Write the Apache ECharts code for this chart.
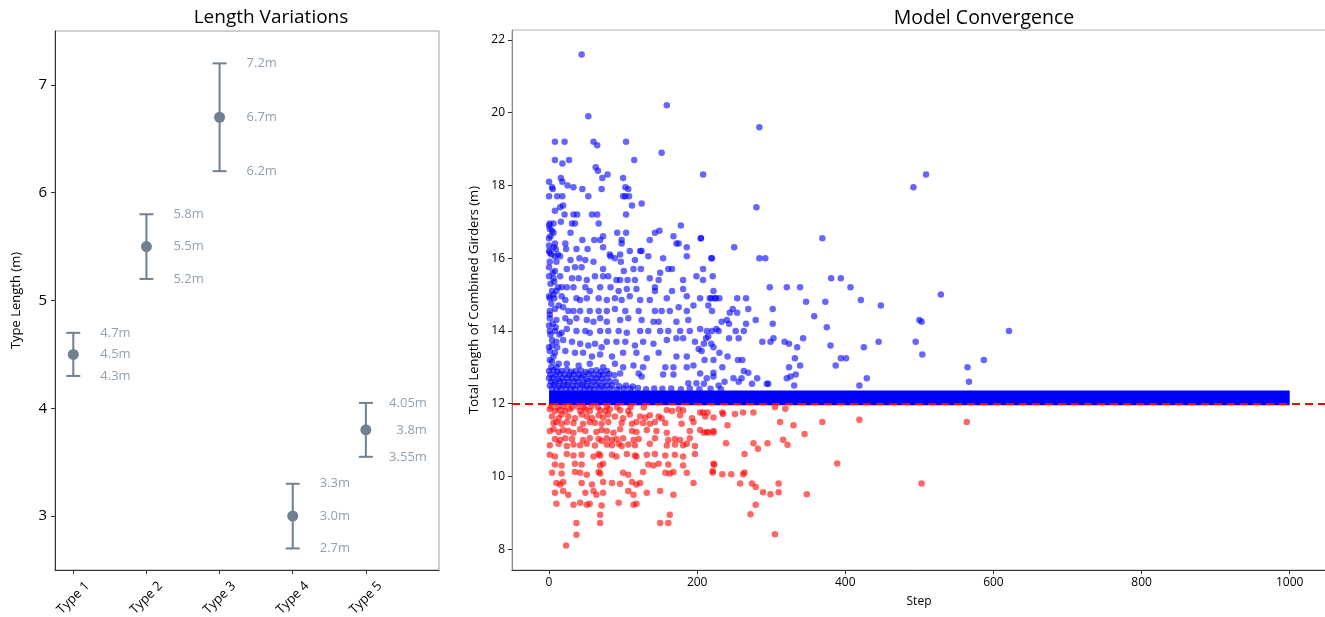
<!DOCTYPE html>
<html>
<head>
<meta charset="utf-8">
<script src="https://cdn.jsdelivr.net/npm/echarts@6/dist/echarts.min.js"></script>
<style>
  html, body { margin: 0; padding: 0; background: #fff; }
  #main { width: 1325px; height: 617px; }
</style>
</head>
<body>
<div id="main"></div>
<script>
// left panel: type lengths with ranges
var typeNames = ['Type 1', 'Type 2', 'Type 3', 'Type 4', 'Type 5'];
var typeMeans = [4.5, 5.5, 6.7, 3.0, 3.8];
var typeLows = [4.3, 5.2, 6.2, 2.7, 3.55];
var typeHighs = [4.7, 5.8, 7.2, 3.3, 4.05];
var leftYTicks = [3, 4, 5, 6, 7];

// right panel: step vs total length
var targetLength = 12;
var bandSteps = [0, 1000];      // converged run, packed solid
var bandValues = [11.96, 12.36];
var xTicks = [0, 200, 400, 600, 800, 1000];
var rightYTicks = [8, 10, 12, 14, 16, 18, 20, 22];

var bluePoints = [
  [44,21.6],[159,20.2],[53,19.9],[284,19.6],[8,19.2],[21,19.2],[60,19.2],[65,19.1],[104,19.2],[152,18.9],
  [8,18.7],[18,18.6],[27,18.7],[115,18.7],[63,18.5],[66,18.4],[72,18.2],[79,18.3],[100,18.2],[208,18.3],
  [0,18.1],[4,17.95],[5,17.9],[16,18.2],[18,18.1],[25,18.0],[33,17.95],[45,17.9],[71,17.9],[103,17.95],
  [107,17.9],[0,17.7],[11,17.7],[18,17.7],[53,17.7],[100,17.7],[103,17.7],[108,17.7],[15,17.4],[19,17.45],
  [8,17.3],[112,17.45],[125,17.5],[21,17.2],[33,17.2],[38,17.2],[58,17.2],[65,17.2],[104,17.2],[492,17.95],
  [509,18.3],[280,17.4],[369,16.55],[205,16.55],[250,16.3],[219,16.0],[284,16.0],[292,16.0],[208,15.7],[221,15.5],
  [208,15.4],[381,15.45],[394,15.45],[298,15.2],[321,15.2],[339,15.2],[407,15.2],[222,15.1],[347,14.8],[373,14.8],
  [421,14.85],[448,14.7],[529,15.0],[204,14.9],[219,14.9],[225,14.9],[230,14.9],[254,14.9],[266,14.9],[215,14.7],
  [269,14.6],[302,14.6],[244,14.5],[248,14.6],[254,14.5],[279,14.3],[302,14.2],[358,14.4],[500,14.3],[503,14.25],
  [233,14.25],[240,14.3],[243,14.2],[266,14.2],[204,14.05],[220,14.0],[229,14.0],[226,14.05],[252,14.0],[263,14.0],
  [375,14.1],[243,13.8],[256,13.8],[212,13.8],[215,13.85],[288,13.7],[299,13.7],[303,13.8],[318,13.7],[324,13.65],
  [343,13.8],[335,13.55],[445,13.7],[495,13.7],[380,13.6],[425,13.55],[504,13.35],[209,13.65],[219,13.65],[206,13.45],
  [230,13.4],[241,13.3],[255,13.2],[261,13.2],[210,13.2],[222,13.2],[332,13.25],[394,13.25],[401,13.25],[387,13.05],
  [324,13.0],[339,13.05],[234,13.0],[565,13.0],[587,13.2],[621,14.0],[263,12.9],[269,12.85],[222,12.85],[222,12.75],
  [213,12.7],[249,12.7],[260,12.7],[281,12.7],[321,12.7],[326,12.75],[333,12.8],[429,12.7],[567,12.6],[237,12.6],
  [256,12.6],[274,12.55],[294,12.55],[296,12.55],[331,12.5],[419,12.5],[229,12.5],[209,12.55],
  [1,16.95],[6,16.95],[31,16.95],[35,16.95],[67,16.95],[16,17.0],
  [1,16.8],[4,16.75],[6,16.7],[29,16.7],[73,16.6],[92,16.7],[104,16.7],[143,16.7],[149,16.75],[178,16.9],
  [0,16.55],[8,16.4],[22,16.4],[45,16.5],[61,16.5],[69,16.5],[98,16.5],[98,16.4],[136,16.5],[168,16.6],[172,16.4],[175,16.4],[205,16.55],
  [0,16.2],[6,16.3],[9,16.25],[23,16.25],[37,16.25],[52,16.25],[73,16.3],[1,16.15],[109,16.2],[125,16.2],[186,16.3],[82,16.1],[96,16.1],[123,16.2],
  [8,16.05],[15,16.05],[29,15.95],[41,16.0],[49,15.95],[60,15.9],[83,16.05],[89,16.0],[97,15.9],[116,15.95],[134,16.05],[154,16.0],[186,16.05],[220,16.0],
  [0,15.75],[8,15.65],[24,15.7],[35,15.75],[44,15.75],[73,15.7],[101,15.65],[114,15.7],[124,15.7],[150,15.6],[161,15.7],[166,15.7],
  [6,15.45],[15,15.5],[31,15.45],[40,15.45],[51,15.4],[62,15.5],[73,15.5],[80,15.5],[91,15.4],[96,15.4],[106,15.4],[116,15.4],[136,15.45],[148,15.4],[181,15.4],[199,15.5],
  [4,15.1],[10,15.1],[17,15.2],[24,15.2],[33,15.2],[49,15.2],[55,15.1],[69,15.2],[83,15.2],[94,15.1],[105,15.15],[118,15.15],[143,15.2],[143,15.1],[166,15.1],[181,15.15],
  [1,14.9],[7,14.9],[17,14.95],[22,14.85],[37,14.9],[42,14.85],[51,14.9],[67,14.9],[78,14.85],[89,14.9],[98,14.85],[109,14.95],[123,14.85],[136,14.85],[159,14.9],[186,14.95],[195,14.7],[217,14.9],[224,14.9],
  [1,14.55],[8,14.6],[19,14.65],[26,14.55],[33,14.55],[42,14.55],[55,14.55],[67,14.55],[78,14.55],[89,14.6],[103,14.55],[121,14.55],[143,14.55],[152,14.55],[163,14.55],[175,14.65],[186,14.55],[220,14.55],
  [1,14.35],[10,14.3],[22,14.35],[28,14.25],[37,14.35],[51,14.3],[60,14.25],[69,14.35],[78,14.25],[96,14.3],[107,14.35],[125,14.3],[141,14.25],[148,14.25],[172,14.25],[188,14.3],
  [1,14.0],[8,14.0],[17,13.95],[24,14.05],[37,14.0],[49,14.0],[55,13.95],[69,14.0],[80,14.0],[94,14.0],[105,13.95],[123,14.0],[134,14.0],[150,14.0],[161,14.0],[177,14.0],[190,14.0],[213,14.0],
  [4,13.75],[10,13.7],[19,13.75],[31,13.7],[42,13.65],[53,13.6],[62,13.65],[71,13.55],[78,13.7],[91,13.7],[103,13.7],[116,13.6],[127,13.7],[141,13.65],[159,13.75],[172,13.8],[181,13.8],[197,13.7],[222,13.55],
  [1,13.45],[8,13.4],[22,13.45],[35,13.4],[46,13.4],[58,13.3],[69,13.35],[85,13.3],[100,13.4],[118,13.4],[132,13.25],[148,13.4],[172,13.3],[186,13.3],[202,13.5],
  [4,13.15],[13,13.1],[24,13.1],[40,13.05],[55,13.1],[73,13.0],[89,13.1],[100,13.0],[114,13.05],[127,13.0],[157,13.0],[168,13.0],[186,13.0],[195,13.05],
  [96,12.83],[121,12.83],[125,12.75],[154,12.8],[168,12.8],[188,12.56],[204,12.83],[199,12.56],
  [0,16.9],[2,16.6],[0,16.35],[3,16.1],[1,15.9],[5,15.6],[0,15.5],[2,15.3],[6,15.0],[0,14.95],[3,14.75],[1,14.45],[5,14.2],
  [0,14.15],[2,13.9],[4,13.6],[0,13.55],[6,13.3],[1,13.2],[3,13.0],[10,15.9],[12,15.2],[9,14.1],[11,13.55],[13,14.7],[14,13.9],[7,15.35],[12,16.1],[10,13.0],
  [0,12.9],[6,12.92],[11,12.88],[17,12.9],[24,12.93],[30,12.88],[36,12.9],[43,12.91],[50,12.87],[57,12.9],[64,12.92],[70,12.88],[78,12.9],
  [2,12.8],[9,12.78],[15,12.82],[21,12.8],[27,12.79],[33,12.81],[40,12.8],[46,12.78],[53,12.82],[60,12.8],[67,12.79],[73,12.8],[81,12.82],[88,12.78],
  [0,12.7],[5,12.72],[12,12.68],[18,12.7],[25,12.71],[31,12.69],[38,12.7],[44,12.72],[51,12.68],[58,12.7],[65,12.7],[72,12.69],[79,12.71],
  [3,12.6],[8,12.58],[14,12.62],[20,12.6],[26,12.59],[33,12.61],[39,12.6],[46,12.58],[52,12.62],[59,12.6],[66,12.6],[74,12.59],[82,12.61],[90,12.6],
  [1,12.5],[7,12.52],[13,12.48],[19,12.5],[25,12.51],[32,12.49],[38,12.5],[45,12.52],[51,12.48],[57,12.5],[64,12.51],[71,12.49],[78,12.5],[85,12.5],[95,12.48],[104,12.5],[113,12.47],
  [4,12.42],[10,12.4],[16,12.43],[23,12.41],[29,12.42],[35,12.4],[42,12.43],[48,12.41],[55,12.42],[61,12.4],[68,12.43],[75,12.41],[83,12.42],[92,12.4],[101,12.42],
  [110,12.41],[120,12.43],[131,12.4],[142,12.42],[153,12.41],[165,12.42],[178,12.4],[190,12.42],[203,12.4],[218,12.41],[232,12.4]
];

var redPoints = [
  [1,11.85],[8,11.8],[15,11.83],[22,11.8],[28,11.85],[42,11.8],[49,11.84],[55,11.8],[69,11.82],[76,11.8],[82,11.85],[96,11.82],[107,11.8],[159,11.83],[166,11.8],[175,11.85],[181,11.82],
  [4,11.65],[13,11.6],[17,11.7],[26,11.65],[35,11.6],[44,11.7],[51,11.65],[58,11.6],[67,11.68],[73,11.62],[80,11.7],[89,11.65],[100,11.6],[109,11.7],[123,11.65],[130,11.62],[136,11.68],[148,11.65],[152,11.6],[177,11.68],[193,11.6],[211,11.65],[222,11.62],
  [6,11.47],[10,11.5],[17,11.45],[24,11.5],[33,11.47],[46,11.45],[55,11.5],[62,11.48],[71,11.45],[80,11.5],[98,11.47],[112,11.45],[118,11.5],[127,11.47],[136,11.45],[143,11.5],[157,11.47],[179,11.45],[195,11.5],
  [1,11.25],[6,11.3],[13,11.22],[19,11.28],[26,11.25],[33,11.2],[42,11.3],[49,11.25],[64,11.22],[71,11.28],[78,11.25],[87,11.2],[96,11.3],[112,11.25],[118,11.22],[132,11.28],[145,11.25],[159,11.2],[190,11.25],[204,11.28],[213,11.22],[222,11.25],
  [8,11.03],[15,11.0],[22,11.05],[31,11.03],[46,11.0],[55,11.05],[67,11.03],[71,10.98],[78,11.05],[85,11.0],[91,11.03],[100,11.05],[114,11.0],[121,11.03],[143,11.05],[161,11.0],[170,11.03],[177,11.0],[190,11.05],
  [1,10.86],[13,10.9],[24,10.84],[33,10.88],[42,10.86],[51,10.9],[62,10.85],[78,10.88],[85,10.86],[94,10.9],[98,10.84],[107,10.88],[116,10.86],[136,10.9],[159,10.85],[170,10.88],[181,10.86],[186,10.9],[197,10.84],
  [1,10.6],[8,10.55],[24,10.62],[33,10.58],[44,10.6],[60,10.55],[67,10.62],[69,10.58],[85,10.6],[91,10.55],[105,10.62],[116,10.58],[118,10.55],[132,10.6],[143,10.62],[157,10.58],[170,10.6],[181,10.55],[197,10.62],
  [8,10.33],[17,10.3],[35,10.35],[44,10.33],[69,10.3],[73,10.35],[134,10.33],[141,10.3],[148,10.35],[161,10.33],[181,10.3],[222,10.35],
  [4,10.1],[17,10.08],[35,10.12],[42,10.1],[51,10.05],[67,10.12],[69,10.08],[100,10.1],[107,10.05],[127,10.12],[157,10.1],[163,10.08],[168,10.12],[186,10.1],[221,10.15],
  [10,9.82],[15,9.78],[19,9.85],[44,9.82],[58,9.78],[73,9.85],[85,9.82],[96,9.8],[112,9.85],[118,9.78],[123,9.82],[195,9.82],
  [8,9.55],[19,9.6],[26,9.5],[49,9.55],[60,9.6],[64,9.5],[73,9.55],[107,9.6],[114,9.5],[132,9.55],[150,9.6],[168,9.5],
  [10,9.25],[33,9.22],[42,9.28],[51,9.22],[55,9.25],[71,9.2],[94,9.28],[114,9.22],[118,9.25],
  [69,8.95],[163,8.95],[37,8.72],[69,8.72],[150,8.72],[161,8.72],[37,8.4],[23,8.1],
  [204,11.76],[208,11.76],[214,11.76],[234,11.76],[235,11.72],[251,11.72],[262,11.76],[276,11.76],[305,11.91],[319,11.86],
  [312,11.5],[330,11.41],[369,11.5],[419,11.56],[564,11.5],[241,11.41],[209,11.21],[215,11.21],[222,11.21],[345,11.17],
  [239,10.91],[276,10.91],[282,10.76],[295,10.91],[316,11.01],[322,10.87],[264,10.62],[389,10.36],[223,10.32],
  [221,10.11],[234,10.06],[246,10.06],[262,10.06],[264,10.11],[258,9.81],[274,9.81],[279,9.71],[310,9.81],
  [289,9.57],[299,9.51],[310,9.57],[348,9.51],[503,9.81],[279,9.22],[272,8.96],[305,8.41],
  [3,11.92],[12,11.9],[20,11.93],[31,11.9],[39,11.92],[47,11.9],[57,11.93],[66,11.9],[78,11.92],[92,11.9],[110,11.91],[128,11.9]
];

var slate = '#708090';
var labelGrey = '#778899';
var font = 'Open Sans';

function fmtLen(v) {
  return (Math.round(v * 10) === v * 10 ? v.toFixed(1) : v.toFixed(2)) + 'm';
}

// one label series per value row (high / mean / low)
function labelSeries(vals) {
  return {
    type: 'scatter', xAxisIndex: 0, yAxisIndex: 0,
    symbolSize: 0, silent: true, z: 5,
    data: vals.map(function (v, i) {
      var item = { value: [i, v] };
      if (i === typeNames.length - 1) {
        item.label = { position: 'right', distance: 61, align: 'right' };
      }
      return item;
    }),
    label: {
      show: true, position: 'right', distance: 27,
      color: labelGrey, fontSize: 13, fontFamily: font,
      formatter: function (p) { return fmtLen(p.value[1]); }
    }
  };
}

var myChart = echarts.init(document.getElementById('main'), null, { renderer: 'canvas' });
myChart.setOption({
  backgroundColor: '#ffffff',
  animation: false,
  textStyle: { fontFamily: font },
  title: [
    { text: 'Length Variations', left: 266, top: 3, textAlign: 'center',
      textStyle: { fontSize: 19, fontWeight: 'normal', color: '#000', fontFamily: font } },
    { text: 'Model Convergence', left: 979, top: 3, textAlign: 'center',
      textStyle: { fontSize: 19.5, fontWeight: 'normal', color: '#000', fontFamily: font } }
  ],
  grid: [
    { left: 55, top: 31, right: 886, bottom: 47, outerBoundsMode: 'none',
      show: true, borderColor: '#a0a0a0', borderWidth: 1 },
    { left: 512, top: 30, right: -1, bottom: 47, outerBoundsMode: 'none',
      show: true, borderColor: '#b0b0b0', borderWidth: 1 }
  ],
  xAxis: [
    {
      type: 'value', gridIndex: 0, min: -0.25, max: 5,
      splitLine: { show: false },
      axisLine: { onZero: false, lineStyle: { color: '#333' } },
      axisTick: { show: true, length: 4, customValues: [0, 1, 2, 3, 4], lineStyle: { color: '#333' } },
      axisLabel: {
        customValues: [0, 1, 2, 3, 4], rotate: 45, align: 'center', verticalAlign: 'middle',
        margin: 28, color: '#000', fontSize: 13, fontFamily: font,
        formatter: function (v) { return typeNames[v]; }
      }
    },
    {
      type: 'value', gridIndex: 1, min: -50, max: 1049,
      name: 'Step', nameLocation: 'middle', nameGap: 26,
      nameTextStyle: { fontSize: 12, color: '#000', fontFamily: font },
      splitLine: { show: false },
      axisLine: { onZero: false, lineStyle: { color: '#333' } },
      axisTick: { show: true, length: 4, customValues: xTicks, lineStyle: { color: '#333' } },
      axisLabel: { customValues: xTicks, color: '#000', fontSize: 12, margin: 7, fontFamily: font,
        formatter: function (v) { return String(v); } }
    }
  ],
  yAxis: [
    {
      type: 'value', gridIndex: 0, min: 2.5, max: 7.5,
      name: 'Type Length (m)', nameLocation: 'middle', nameGap: 32,
      nameTextStyle: { fontSize: 13, color: '#000', fontFamily: font },
      splitLine: { show: false },
      axisLine: { show: true, onZero: false, lineStyle: { color: '#333' } },
      axisTick: { show: true, length: 4, customValues: leftYTicks, lineStyle: { color: '#333' } },
      axisLabel: { customValues: leftYTicks, color: '#000', fontSize: 15, margin: 8, fontFamily: font }
    },
    {
      type: 'value', gridIndex: 1, min: 7.43, max: 22.27,
      name: 'Total Length of Combined Girders (m)', nameLocation: 'middle', nameGap: 26,
      nameTextStyle: { fontSize: 13, color: '#000', fontFamily: font },
      splitLine: { show: false },
      axisLine: { show: true, onZero: false, lineStyle: { color: '#888' } },
      axisTick: { show: true, length: 4, customValues: rightYTicks, lineStyle: { color: '#333' } },
      axisLabel: { customValues: rightYTicks, color: '#000', fontSize: 12, margin: 7, fontFamily: font }
    }
  ],
  series: [
    {
      // error bars with caps
      type: 'custom', xAxisIndex: 0, yAxisIndex: 0, z: 3,
      data: typeNames.map(function (n, i) { return [i, typeLows[i], typeHighs[i]]; }),
      renderItem: function (params, api) {
        var lo = api.coord([api.value(0), api.value(1)]);
        var hi = api.coord([api.value(0), api.value(2)]);
        var cap = 7;
        var st = { stroke: slate, lineWidth: 2 };
        return {
          type: 'group',
          children: [
            { type: 'line', shape: { x1: lo[0], y1: lo[1], x2: hi[0], y2: hi[1] }, style: st },
            { type: 'line', shape: { x1: lo[0] - cap, y1: lo[1], x2: lo[0] + cap, y2: lo[1] }, style: st },
            { type: 'line', shape: { x1: hi[0] - cap, y1: hi[1], x2: hi[0] + cap, y2: hi[1] }, style: st }
          ]
        };
      }
    },
    {
      type: 'scatter', xAxisIndex: 0, yAxisIndex: 0, z: 4,
      symbolSize: 11, itemStyle: { color: slate, opacity: 1 },
      data: typeMeans.map(function (v, i) { return [i, v]; })
    },
    labelSeries(typeHighs),
    labelSeries(typeMeans),
    labelSeries(typeLows),
    {
      type: 'scatter', xAxisIndex: 1, yAxisIndex: 1, z: 3,
      symbolSize: 6.5, itemStyle: { color: '#0000ff', opacity: 0.6 },
      data: bluePoints,
      markArea: {
        silent: true,
        itemStyle: { color: '#0000ff', opacity: 1 },
        data: [[{ xAxis: bandSteps[0], yAxis: bandValues[0] }, { xAxis: bandSteps[1], yAxis: bandValues[1] }]]
      }
    },
    {
      type: 'scatter', xAxisIndex: 1, yAxisIndex: 1, z: 3,
      symbolSize: 6.5, itemStyle: { color: '#ff0000', opacity: 0.6 },
      data: redPoints,
      markLine: {
        silent: true, symbol: 'none', z: 10,
        label: { show: false },
        lineStyle: { color: '#ff0000', width: 2, type: [8, 5] },
        data: [{ yAxis: targetLength }]
      }
    }
  ]
});
</script>
</body>
</html>
